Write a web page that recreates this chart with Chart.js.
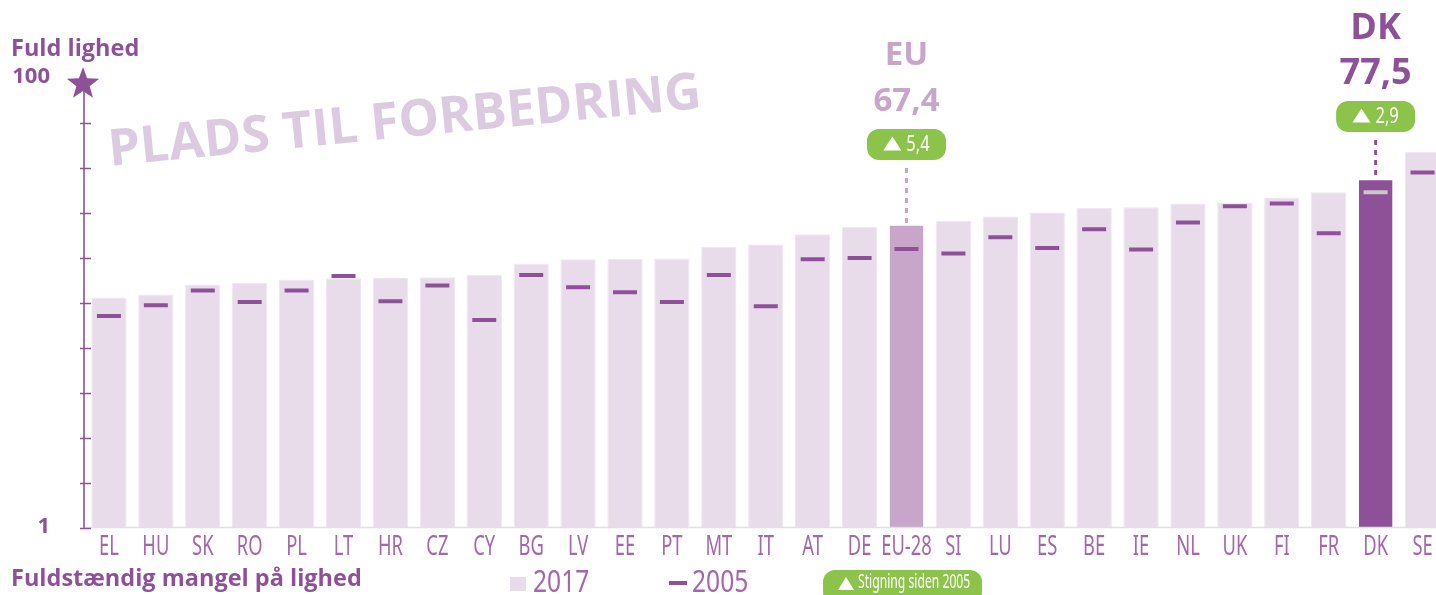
<!DOCTYPE html>
<html>
<head>
<meta charset="utf-8">
<script src="https://cdn.jsdelivr.net/npm/chart.js@4"></script>
<style>
  html, body { margin: 0; padding: 0; background: #fff; overflow: hidden; }
  #wrap { width: 1436px; height: 595px; overflow: hidden; position: relative; }
  #inner { position: absolute; left: 0; top: 0; width: 1446px; height: 595px; }
</style>
</head>
<body>
<div id="wrap"><div id="inner"><canvas id="chart"></canvas></div></div>
<script>
// Gender equality index per country, 2017 vs 2005
const countries = ["EL", "HU", "SK", "RO", "PL", "LT", "HR", "CZ", "CY", "BG", "LV", "EE", "PT", "MT", "IT",
  "AT", "DE", "EU-28", "SI", "LU", "ES", "BE", "IE", "NL", "UK", "FI", "FR", "DK", "SE"];
const values2017 = [51.2, 51.9, 54.1, 54.5, 55.2, 55.5, 55.6, 55.7, 56.3, 58.8, 59.7, 59.8, 59.9, 62.5, 63.0,
  65.3, 66.9, 67.4, 68.3, 69.2, 70.1, 71.1, 71.3, 72.1, 72.2, 73.4, 74.6, 77.5, 83.6];
const values2005 = [47.1, 49.5, 52.8, 50.2, 52.8, 56.0, 50.4, 53.9, 46.2, 56.2, 53.5, 52.4, 50.2, 56.2, 49.3,
  59.7, 60.0, 62.0, 61.0, 64.6, 62.2, 66.4, 61.9, 67.9, 71.5, 72.1, 65.5, 74.6, 79.0];
const yTicks = [0, 10, 20, 30, 40, 50, 60, 70, 80, 90, 100];
const yTickLabels = { 0: "1", 100: "100" };
const highlights = [
  { country: "EU-28", title: "EU", value: "67,4", change: "5,4" },
  { country: "DK", title: "DK", value: "77,5", change: "2,9" }
];

const PURPLE = "#8e5199";
const LIGHT = "#e8dcea";
const MID = "#c8a6c9";
const GREEN = "#8cc34a";
const LABEL = "#a466ad";

const barColors = countries.map(c => c === "DK" ? PURPLE : c === "EU-28" ? MID : LIGHT);
const markColors = countries.map(c => c === "DK" ? "#c9c9c9" : PURPLE);

// draws a horizontally squeezed string (poor man's condensed font)
function condensed(ctx, text, x, y, font, color, sx, align) {
  ctx.save();
  ctx.font = font;
  ctx.fillStyle = color;
  ctx.textBaseline = "middle";
  const w = ctx.measureText(text).width * sx;
  let left = x;
  if (align === "center") left = x - w / 2;
  if (align === "right") left = x - w;
  ctx.translate(left, y);
  ctx.scale(sx, 1);
  ctx.textAlign = "left";
  ctx.fillText(text, 0, 0);
  ctx.restore();
  return w;
}

function text(ctx, str, x, y, font, color, align) {
  ctx.save();
  ctx.font = font;
  ctx.fillStyle = color;
  ctx.textAlign = align || "left";
  ctx.textBaseline = "middle";
  ctx.fillText(str, x, y);
  ctx.restore();
}

function star(ctx, cx, cy, ro, ri, color) {
  ctx.save();
  ctx.beginPath();
  for (let i = 0; i < 10; i++) {
    const r = i % 2 ? ri : ro;
    const a = -Math.PI / 2 + i * Math.PI / 5;
    ctx.lineTo(cx + r * Math.cos(a), cy + r * Math.sin(a));
  }
  ctx.closePath();
  ctx.fillStyle = color;
  ctx.fill();
  ctx.restore();
}

function badge(ctx, cx, top, w, h, label) {
  ctx.save();
  ctx.fillStyle = GREEN;
  ctx.beginPath();
  ctx.roundRect(cx - w / 2, top, w, h, 12);
  ctx.fill();
  const cy = top + h / 2;
  ctx.font = "22px 'Noto Sans'";
  const tw = ctx.measureText(label).width * 0.75;
  const total = 18 + 5 + tw;
  const x0 = cx - total / 2;
  ctx.fillStyle = "#fff";
  ctx.beginPath();
  ctx.moveTo(x0, cy + 6);
  ctx.lineTo(x0 + 18, cy + 6);
  ctx.lineTo(x0 + 9, cy - 8);
  ctx.closePath();
  ctx.fill();
  ctx.restore();
  condensed(ctx, label, x0 + 23, cy, "22px 'Noto Sans'", "#fff", 0.75, "left");
}

const decor = {
  id: "decor",
  afterDatasetsDraw(chart) {
    const ctx = chart.ctx;
    const xs = chart.scales.x;
    const ys = chart.scales.y;
    const base = ys.getPixelForValue(0);
    const top = ys.getPixelForValue(100);

    // light baseline under bars
    ctx.save();
    ctx.strokeStyle = "#e2dfe2";
    ctx.lineWidth = 1.5;
    ctx.beginPath();
    ctx.moveTo(chart.chartArea.left, base - 0.5);
    ctx.lineTo(chart.chartArea.right, base - 0.5);
    ctx.stroke();

    // y axis with cross ticks
    const ax = 84;
    ctx.strokeStyle = PURPLE;
    ctx.lineWidth = 1.6;
    ctx.beginPath();
    ctx.moveTo(ax, top);
    ctx.lineTo(ax, base);
    yTicks.forEach(t => {
      const y = Math.round(ys.getPixelForValue(t)) + 0.5;
      if (t === 100) return;
      ctx.moveTo(ax - 4, y);
      ctx.lineTo(ax + 7, y);
    });
    ctx.stroke();
    ctx.restore();
    star(ctx, 83, top + 6, 17, 7, PURPLE);

    Object.keys(yTickLabels).forEach(k => {
      text(ctx, yTickLabels[k], 50, ys.getPixelForValue(+k) - 1, "bold 22px 'Open Sans'", PURPLE, "right");
    });
    text(ctx, "Fuld lighed", 11, 49, "bold 23.5px 'Open Sans'", PURPLE);
    text(ctx, "Fuldstændig mangel på lighed", 11, 579, "bold 23.5px 'Open Sans'", PURPLE);

    // watermark
    ctx.save();
    ctx.translate(110, 166);
    ctx.rotate(-5.6 * Math.PI / 180);
    ctx.font = "bold 51px 'Open Sans'";
    ctx.fillStyle = "#dccbe0";
    ctx.textBaseline = "alphabetic";
    ctx.fillText("PLADS TIL FORBEDRING", 0, 0);
    ctx.restore();

    // category labels
    countries.forEach((c, i) => {
      condensed(ctx, c, xs.getPixelForValue(i), 547, "27px 'Noto Sans'", LABEL, 0.68, "center");
    });

    // highlighted EU and DK
    highlights.forEach(h => {
      const i = countries.indexOf(h.country);
      const x = xs.getPixelForValue(i);
      const barTop = ys.getPixelForValue(values2017[i]);
      const isDK = h.country === "DK";
      const color = isDK ? PURPLE : MID;
      const bTop = isDK ? 101 : 129;
      const bH = 31;
      ctx.save();
      ctx.strokeStyle = color;
      ctx.lineWidth = 3;
      ctx.setLineDash([5, 5]);
      ctx.beginPath();
      ctx.moveTo(x, bTop + bH + 8);
      ctx.lineTo(x, barTop - 1);
      ctx.stroke();
      ctx.restore();
      badge(ctx, x, bTop, 79, bH, h.change);
      const f = isDK ? "bold 36px 'Open Sans'" : "bold 33px 'Open Sans'";
      text(ctx, h.title, x, isDK ? 29 : 56, f, color, "center");
      text(ctx, h.value, x, isDK ? 74 : 102, f, color, "center");
    });

    // legend
    ctx.save();
    ctx.fillStyle = LIGHT;
    ctx.fillRect(510, 577, 16, 14);
    ctx.fillStyle = PURPLE;
    ctx.fillRect(669, 581, 18, 4);
    ctx.fillStyle = GREEN;
    ctx.beginPath();
    ctx.roundRect(823, 570, 159, 34, 12);
    ctx.fill();
    ctx.beginPath();
    ctx.moveTo(838, 590);
    ctx.lineTo(854, 590);
    ctx.lineTo(846, 577);
    ctx.closePath();
    ctx.fillStyle = "#fff";
    ctx.fill();
    ctx.restore();
    condensed(ctx, "2017", 533, 583, "30px 'Noto Sans'", LABEL, 0.82, "left");
    condensed(ctx, "2005", 692, 583, "30px 'Noto Sans'", LABEL, 0.82, "left");
    condensed(ctx, "Stigning siden 2005", 858, 583, "19px 'Noto Sans'", "#fff", 0.64, "left");
  }
};

new Chart(document.getElementById("chart"), {
  type: "bar",
  data: {
    labels: countries,
    datasets: [
      {
        label: "2017",
        data: values2017,
        backgroundColor: barColors,
        borderColor: countries.map(c => c === "DK" || c === "EU-28" ? "rgba(0,0,0,0)" : "#efe6f1"),
        borderWidth: 1,
        barPercentage: 0.753,
        categoryPercentage: 1,
        order: 2
      },
      {
        type: "line",
        label: "2005",
        data: values2005,
        showLine: false,
        pointStyle: "line",
        pointRadius: 12,
        pointHoverRadius: 12,
        pointBorderWidth: 4,
        pointBorderColor: markColors,
        borderColor: PURPLE,
        order: 1
      }
    ]
  },
  options: {
    responsive: true,
    maintainAspectRatio: false,
    animation: false,
    layout: { autoPadding: false, padding: { left: 85.5, right: 0, top: 78, bottom: 67 } },
    plugins: { legend: { display: false }, tooltip: { enabled: false } },
    scales: {
      x: { display: false, offset: true },
      y: { display: false, min: 0, max: 100 }
    }
  },
  plugins: [decor]
});
</script>
</body>
</html>
